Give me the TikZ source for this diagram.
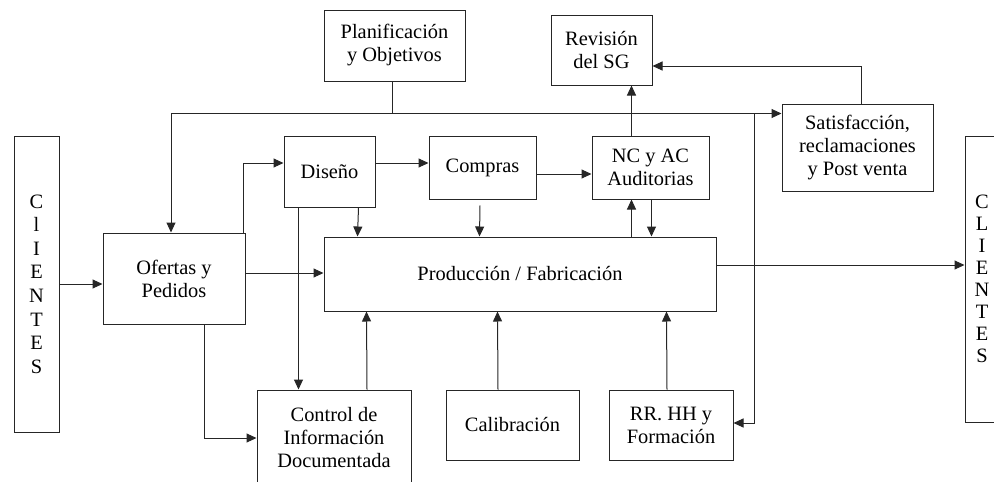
\documentclass[tikz,border=0pt]{standalone}
\usepackage{fontspec}
\setmainfont{Liberation Serif}
\usetikzlibrary{arrows.meta,calc}
\begin{document}
\begin{tikzpicture}[x=1pt,y=-1pt,
  box/.style={draw=black!85, line width=1pt, align=center, inner sep=0pt,
    font=\fontsize{20.4}{23}\selectfont},
  arr/.style={draw=black!85, line width=1pt, -{Triangle[length=10pt,width=9pt]}},
  ln/.style={draw=black!85, line width=1pt}]
\useasboundingbox (0,0) rectangle (994,482);

% boxes
\node[box, minimum width=141pt, minimum height=71pt] (plan) at (394.5,45.5) {Planificación\\y Objetivos};
\node[box, minimum width=101pt, minimum height=70pt] (rev) at (601.5,50) {Revisión\\del SG};
\node[box, minimum width=151pt, minimum height=87pt] (sat) at (857.5,147.5) {Satisfacción,\\reclamaciones\\y Post venta};
\node[box, minimum width=45pt, minimum height=296pt, font=\fontsize{20.4}{23.6}\selectfont] (cl1) at (36.5,284) {C\\l\\I\\E\\N\\T\\E\\S};
\node[box, minimum width=34pt, minimum height=286pt, font=\fontsize{20.4}{22}\selectfont] (cl2) at (982,279) {C\\L\\I\\E\\N\\T\\E\\S};
\node[box, minimum width=91pt, minimum height=71pt] (dis) at (329.5,171.5) {Diseño};
\node[box, minimum width=107pt, minimum height=63pt] (com) at (482.5,167.5) {Compras};
\node[box, minimum width=117pt, minimum height=63pt] (nc) at (650.5,167.5) {NC y AC\\Auditorias};
\node[box, minimum width=142pt, minimum height=91pt] (ofe) at (174,278.5) {Ofertas y\\Pedidos};
\node[box, minimum width=392pt, minimum height=74pt] (pro) at (520,274) {Producción / Fabricación};
\node[box, minimum width=154pt, minimum height=96pt] (ctl) at (334,438) {Control de\\Información\\Documentada};
\node[box, minimum width=133pt, minimum height=70pt] (cal) at (512.5,425) {Calibración};
\node[box, minimum width=124pt, minimum height=70pt] (rrhh) at (671,425) {RR. HH y\\Formación};

% junctions
\coordinate (j1) at ($(plan.south)+(-2.5,32)$);
\coordinate (j2) at (j1 -| 754,0);

% planificación distribution
\draw[ln] (j1 |- plan.south) -- (j1);
\draw[arr] (j1) -| ($(ofe.north)+(-3,0)$);
\draw[arr] (j1) -- (j1 -| sat.west);
\draw[arr] (j2) |- ($(rrhh.east)+(0,-2)$);

% clientes -> ofertas
\draw[arr] (cl1.east) -- (cl1.east -| ofe.west);
% ofertas -> diseño
\draw[arr] ($(ofe.north east)+(-2,0)$) |- ($(dis.west)+(0,-8.5)$);
% diseño -> compras -> nc
\draw[arr] ($(dis.east)+(0,-8.5)$) -- ($(com.west)+(0,-4.5)$);
\draw[arr] ($(com.east)+(0,6.5)$) -- ($(nc.west)+(0,6.5)$);
% down into producción
\draw[arr] ($(dis.south east)+(-17,0)$) -- ($(pro.north west)+(34,0)$);
\draw[arr] ($(com.south)+(-2.5,6)$) -- ($(pro.north west)+(156,0)$);
% diseño -> control
\draw[arr] ($(dis.south west)+(15,0)$) -- ($(ctl.north west)+(42,0)$);
% nc <-> producción, nc -> revisión
\draw[arr] ($(pro.north west)+(308,0)$) -- ($(nc.south west)+(40,0)$);
\draw[arr] ($(nc.south west)+(60,0)$) -- ($(pro.north west)+(328,0)$);
\draw[arr] ($(nc.north west)+(40,0)$) -- ($(rev.south west)+(81,0)$);
% satisfacción -> revisión
\draw[arr] ($(sat.north)+(3.5,0)$) |- ($(rev.east)+(0,16)$);
% ofertas -> producción
\draw[arr] ($(ofe.east)+(0,-5.5)$) -- ($(pro.west)+(0,-1)$);
% ofertas -> control
\draw[arr] ($(ofe.south)+(30,0)$) |- (ctl.west);
% bottom boxes -> producción
\draw[arr] ($(ctl.north)+(33,0)$) -- ($(pro.south west)+(43,0)$);
\draw[arr] ($(cal.north)+(-14.5,0)$) -- ($(pro.south west)+(174,0)$);
\draw[arr] ($(rrhh.north)+(-4,0)$) -- ($(pro.south west)+(343,0)$);
% producción -> clientes
\draw[arr] ($(pro.east)+(0,-9)$) -- ($(cl2.west)+(0,-14)$);
\end{tikzpicture}
\end{document}
